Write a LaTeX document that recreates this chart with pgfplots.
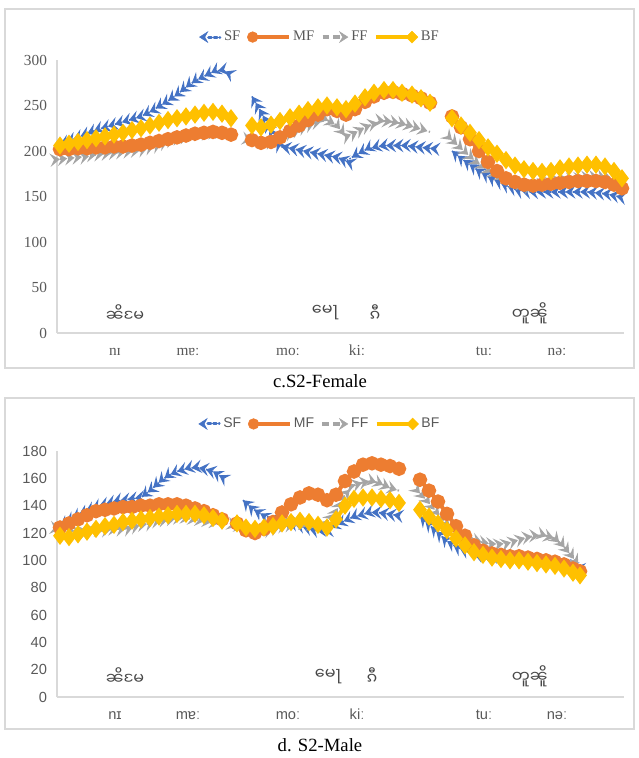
\documentclass[border=0pt]{standalone}
\usepackage{fontspec}
\setmainfont{Liberation Serif}
\newfontfamily\arial{Liberation Sans}
\newfontfamily\taifont[Script=Myanmar]{Noto Sans Myanmar UI}
\usepackage{pgfplots}
\pgfplotsset{compat=1.18}
\usetikzlibrary{arrows.meta, decorations.markings}

\definecolor{sfblue}{HTML}{4472C4}
\definecolor{mforange}{HTML}{ED7D31}
\definecolor{ffgray}{HTML}{A5A5A5}
\definecolor{bfgold}{HTML}{FFC000}
\definecolor{axgray}{HTML}{D9D9D9}
\definecolor{tickgray}{HTML}{595959}

\pgfplotsset{
  sfline/.style={sfblue, line width=1.2pt, densely dotted, mark=none,
    postaction={decorate, decoration={markings,
      mark=between positions 0 and 1 step 5.5pt with
      {\arrowreversed[sfblue]{Stealth[length=7.5pt,width=10pt,inset=3pt]}}}}},
  ffline/.style={ffgray, line width=1.5pt, dashed, mark=none,
    postaction={decorate, decoration={markings,
      mark=between positions 0 and 1 step 5.5pt with
      {\arrow[ffgray]{Stealth[length=7.5pt,width=10pt,inset=3pt]}}}}},
  mfline/.style={mforange, line width=3pt, mark=*, mark size=3.9pt, mark options={solid}},
  bfline/.style={bfgold, line width=3pt, mark=diamond*, mark size=4.4pt, mark options={solid}},
  panel/.style={
    scale only axis, anchor=south west,
    xmin=57, xmax=624,
    axis y line*=left, axis x line*=bottom,
    axis line style={draw=axgray, line width=0.8pt},
    major tick length=0pt,
    xtick={115,188,288,357,484,557},
    xticklabels={nɪ, mɐː, moː, kiː, tuː, nəː},
    tick label style={text=tickgray},
    xticklabel style={text height=1.6ex, text depth=0.3ex, yshift=-6pt},
    yticklabel style={xshift=-4pt},
    /pgf/number format/assume math mode=true,
    clip=false,
    legend columns=4,
    legend style={draw=none, fill=none, text=tickgray,
      /tikz/every odd column/.append style={column sep=0pt},
      /tikz/every even column/.append style={column sep=3pt}},
  },
  legSF/.style={legend image code/.code={
    \draw[sfblue, line width=2.2pt, dotted, line cap=round] (0.25cm,0) -- (0.55cm,0);
    \draw[sfblue, line width=0.4pt, {Stealth[length=7pt,width=9pt,inset=2.5pt]}-] (0,0) -- (0.12cm,0);}},
  legMF/.style={legend image code/.code={
    \draw[mforange, line width=2.5pt] (0,0) -- (0.95cm,0);
    \fill[mforange] (0,0) circle (4pt);}},
  legFF/.style={legend image code/.code={
    \draw[ffgray, line width=2.5pt, dash pattern=on 5pt off 3pt] (0,0) -- (0.45cm,0);
    \draw[ffgray, line width=0.4pt, -{Stealth[length=7pt,width=9pt,inset=2.5pt]}] (0.55cm,0) -- (0.68cm,0);}},
  legBF/.style={legend image code/.code={
    \draw[bfgold, line width=2.5pt] (0,0) -- (0.95cm,0);
    \fill[bfgold] (0.95cm,0) +(-4.4pt,0) -- +(0,4.4pt) -- +(4.4pt,0) -- +(0,-4.4pt) -- cycle;}},
}

\begin{document}
\begin{tikzpicture}
\useasboundingbox (0,0) rectangle (479.25pt,-568.5pt);
\draw[axgray, line width=1pt] (3.75pt,-6.75pt) rectangle (475.5pt,-276pt);
\draw[axgray, line width=1pt] (3.75pt,-298.5pt) rectangle (475.5pt,-546.75pt);

% ---------------- c. S2-Female ----------------
\begin{axis}[panel,
  at={(42.75pt,-249.75pt)}, width=425.25pt, height=204.75pt,
  ymin=0, ymax=300, ytick={0,50,...,300},
  tick label style={font=\fontsize{11.5}{13}\selectfont},
  legend style={at={(0.464,1.084)}, anchor=center, font=\fontsize{11}{12}\selectfont},
]
\addlegendimage{legSF}\addlegendentry{SF}
\addlegendimage{legMF}\addlegendentry{MF}
\addlegendimage{legFF}\addlegendentry{FF}
\addlegendimage{legBF}\addlegendentry{BF}

% SF
\addplot[sfline, forget plot] coordinates {
 (60,207) (69,211) (78,215) (87,219) (96,223) (105,226) (114,229) (123,232) (132,235) (141,238)
 (150,243) (159,249) (168,255) (177,262) (186,270) (195,277) (204,282) (213,287) (222,289) (231,284)};
\addplot[sfline, forget plot] coordinates {
 (252,260) (261,243) (271,222) (280,205) (290,203) (299,201) (308,199) (318,197) (327,195) (337,193)
 (346,189) (355,195) (365,201) (374,204) (384,206) (393,206) (402,206) (412,205) (421,204) (430,203)};
\addplot[sfline, forget plot] coordinates {
 (452,200) (461,192) (470,185) (479,178) (488,172) (497,167) (506,162) (515,158) (524,156) (533,155)
 (542,155) (551,155) (560,155) (569,155) (578,155) (587,155) (596,154) (605,153) (614,151) (622,149)};
% MF
\addplot[mfline, forget plot] coordinates {
 (60,202) (69,202) (78,203) (87,203) (96,204) (105,204) (114,205) (123,205) (132,206) (141,207)
 (150,209) (159,211) (168,213) (177,215) (186,217) (195,219) (204,220) (213,221) (222,220) (231,218)};
\addplot[mfline, forget plot] coordinates {
 (252,212) (261,209) (271,210) (280,215) (290,222) (299,228) (308,234) (318,240) (327,246) (337,244)
 (346,240) (355,246) (365,254) (374,260) (384,264) (393,265) (402,263) (412,261) (421,258) (430,253)};
\addplot[mfline, forget plot] coordinates {
 (452,238) (461,226) (470,213) (479,200) (488,188) (497,178) (506,170) (515,166) (524,163) (533,162)
 (542,163) (551,164) (560,165) (569,166) (578,167) (587,167) (596,167) (605,166) (614,163) (622,159)};
% FF
\addplot[ffline, forget plot] coordinates {
 (60,191) (69,192) (78,193) (87,194) (96,196) (105,197) (114,198) (123,199) (132,200) (141,201)
 (150,204) (159,207) (168,211) (177,214) (186,216) (195,218) (204,219) (213,220) (222,220) (231,219)};
\addplot[ffline, forget plot] coordinates {
 (252,212) (261,210) (271,211) (280,215) (290,220) (299,224) (308,228) (318,232) (327,234) (337,228)
 (346,216) (355,220) (365,226) (374,230) (384,233) (393,232) (402,230) (412,227) (421,224) (430,221)};
\addplot[ffline, forget plot] coordinates {
 (452,212) (461,203) (470,194) (479,186) (488,179) (497,174) (506,169) (515,165) (524,163) (533,162)
 (542,164) (551,166) (560,168) (569,169) (578,170) (587,171) (596,171) (605,170) (614,167) (622,163)};
% BF
\addplot[bfline, forget plot] coordinates {
 (60,206) (69,208) (78,210) (87,212) (96,214) (105,216) (114,218) (123,220) (132,223) (141,225)
 (150,228) (159,231) (168,234) (177,236) (186,238) (195,240) (204,242) (213,243) (222,241) (231,236)};
\addplot[bfline, forget plot] coordinates {
 (252,228) (261,226) (271,229) (280,233) (290,237) (299,241) (308,245) (318,248) (327,250) (337,248)
 (346,246) (355,252) (365,259) (374,264) (384,267) (393,267) (402,264) (412,262) (421,258) (430,253)};
\addplot[bfline, forget plot] coordinates {
 (452,236) (461,228) (470,220) (479,212) (488,204) (497,197) (506,190) (515,184) (524,180) (533,178)
 (542,177) (551,178) (560,181) (569,183) (578,184) (587,185) (596,185) (605,183) (614,178) (622,170)};

\node[font=\taifont\fontsize{12}{13}\selectfont, text=tickgray!80!black] at (axis cs:125,22) {ၼိမႄ};
\node[font=\taifont\fontsize{12}{13}\selectfont, text=tickgray!80!black] at (axis cs:325,22) {မေႃ};
\node[font=\taifont\fontsize{12}{13}\selectfont, text=tickgray!80!black] at (axis cs:375,22) {ၵီ};
\node[font=\taifont\fontsize{12}{13}\selectfont, text=tickgray!80!black] at (axis cs:530,22) {တူၼိူ};
\end{axis}
\node[font=\fontsize{14}{16}\selectfont] at (240pt,-285.75pt) {c.S2-Female};

% ---------------- d. S2-Male ----------------
\begin{axis}[panel,
  at={(42.75pt,-522.75pt)}, width=425.25pt, height=184.5pt,
  ymin=0, ymax=180, ytick={0,20,...,180},
  tick label style={font=\arial\fontsize{11}{13}\selectfont},
  legend style={at={(0.464,1.11)}, anchor=center, font=\arial\fontsize{10.5}{12}\selectfont},
]
\addlegendimage{legSF}\addlegendentry{SF}
\addlegendimage{legMF}\addlegendentry{MF}
\addlegendimage{legFF}\addlegendentry{FF}
\addlegendimage{legBF}\addlegendentry{BF}

% SF
\addplot[sfline, forget plot] coordinates {
 (60,125) (69,129) (78,133) (87,136) (96,139) (105,141) (114,143) (123,144) (132,145) (141,146)
 (150,151) (159,157) (168,162) (177,165) (186,167) (195,168) (204,167) (213,165) (222,161)};
\addplot[sfline, forget plot] coordinates {
 (243,144) (252,138) (261,134) (270,131) (279,130) (288,128) (297,126) (306,124) (315,122) (324,122)
 (333,125) (342,128) (351,131) (360,133) (369,135) (378,135) (387,134) (396,133) (400,133)};
\addplot[sfline, forget plot] coordinates {
 (420,132) (429,126) (438,120) (447,114) (456,110) (465,107) (474,105) (483,104) (492,103) (501,103)
 (510,102) (519,102) (528,101) (537,100) (546,99) (555,98) (564,97) (573,95) (580,94)};
% MF
\addplot[mfline, forget plot] coordinates {
 (60,124) (69,127) (78,130) (87,133) (96,136) (105,137) (114,138) (123,139) (132,139) (141,140)
 (150,140) (159,141) (168,141) (177,141) (186,140) (195,138) (204,136) (213,133) (222,130)};
\addplot[mfline, forget plot] coordinates {
 (237,127) (246,122) (255,120) (264,123) (273,128) (282,135) (291,141) (300,146) (309,149) (318,148)
 (327,144) (336,148) (345,158) (354,165) (363,170) (372,171) (381,170) (390,169) (399,167)};
\addplot[mfline, forget plot] coordinates {
 (420,159) (429,151) (438,143) (447,134) (456,125) (465,118) (474,111) (483,107) (492,105) (501,104)
 (510,103) (519,103) (528,102) (537,101) (546,100) (555,99) (564,97) (573,94) (580,92)};
% FF
\addplot[ffline, forget plot] coordinates {
 (60,123) (69,122) (78,121) (87,121) (96,122) (105,122) (114,123) (123,123) (132,124) (141,126)
 (150,127) (159,129) (168,130) (177,131) (186,131) (195,130) (204,129) (213,128) (222,127)};
\addplot[ffline, forget plot] coordinates {
 (237,125) (246,123) (255,122) (264,122) (273,123) (282,125) (291,126) (300,127) (309,126) (318,125)
 (327,128) (336,136) (345,148) (354,155) (363,157) (372,158) (381,156) (390,153) (399,151)};
\addplot[ffline, forget plot] coordinates {
 (420,149) (429,142) (438,134) (447,127) (456,121) (465,117) (474,115) (483,113) (492,112) (501,112)
 (510,113) (519,115) (528,117) (537,118) (546,118) (555,116) (564,110) (573,102) (580,95)};
% BF
\addplot[bfline, forget plot] coordinates {
 (60,118) (69,117) (78,119) (87,121) (96,123) (105,125) (114,126) (123,128) (132,129) (141,130)
 (150,131) (159,132) (168,133) (177,134) (186,134) (195,134) (204,133) (213,131) (222,129)};
\addplot[bfline, forget plot] coordinates {
 (237,127) (246,124) (255,123) (264,124) (273,125) (282,127) (291,128) (300,129) (309,128) (318,126)
 (327,124) (336,130) (345,140) (354,145) (363,146) (372,146) (381,145) (390,144) (399,142)};
\addplot[bfline, forget plot] coordinates {
 (420,137) (429,132) (438,127) (447,122) (456,116) (465,111) (474,106) (483,104) (492,102) (501,101)
 (510,100) (519,100) (528,99) (537,98) (546,97) (555,96) (564,94) (573,91) (580,89)};

\node[font=\taifont\fontsize{12}{13}\selectfont, text=tickgray!80!black] at (axis cs:125,15) {ၼိမႄ};
\node[font=\taifont\fontsize{12}{13}\selectfont, text=tickgray!80!black] at (axis cs:328,15) {မေႃ};
\node[font=\taifont\fontsize{12}{13}\selectfont, text=tickgray!80!black] at (axis cs:372,15) {ၵီ};
\node[font=\taifont\fontsize{12}{13}\selectfont, text=tickgray!80!black] at (axis cs:530,15) {တူၼိူ};
\end{axis}
\node[font=\fontsize{14}{16}\selectfont] at (240pt,-558.75pt) {d. S2-Male};
\end{tikzpicture}
\end{document}
